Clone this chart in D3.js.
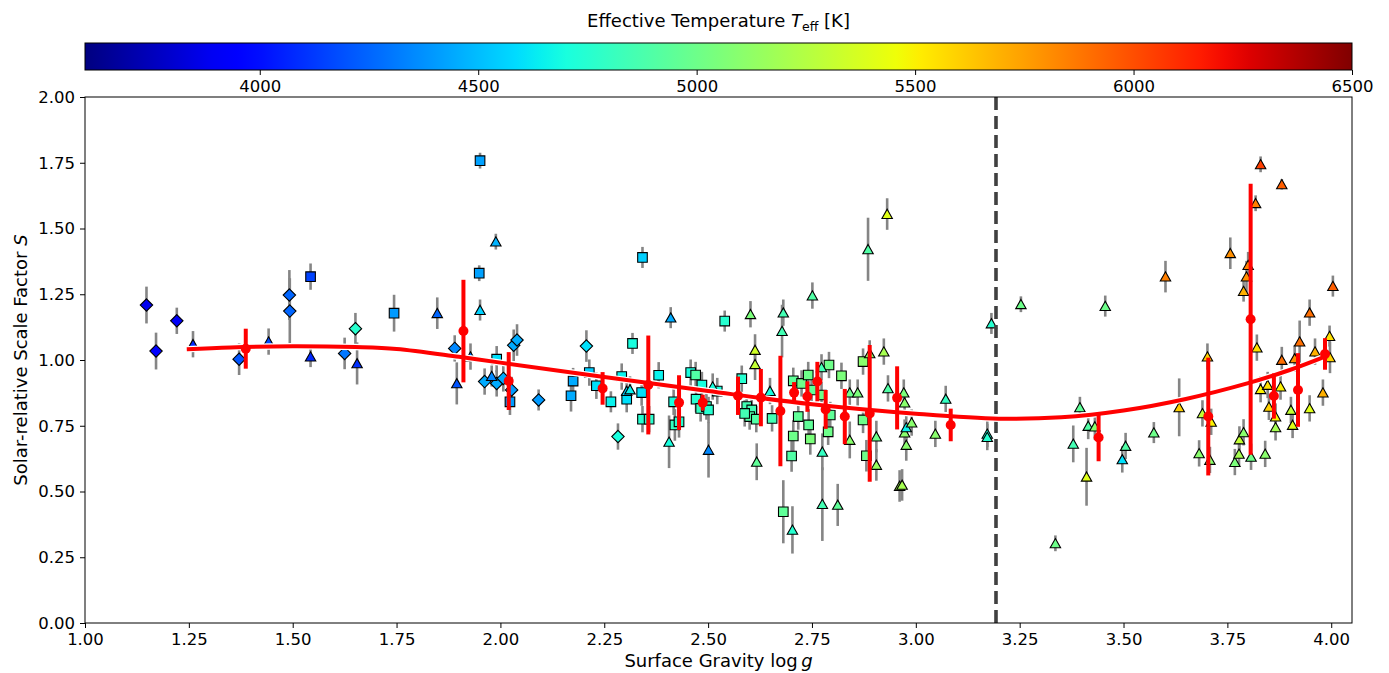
<!DOCTYPE html>
<html><head><meta charset="utf-8">
<script src="https://cdn.jsdelivr.net/npm/d3@7"></script>
<style>body{margin:0;background:#fff} svg{display:block} text{font-family:"DejaVu Sans",sans-serif}</style>
</head><body><svg id="c" width="1389" height="673"></svg>
<script>
// [logg, S, S_err, Teff]
const diamonds = [
[1.148,1.209,0.07,3880],[1.171,1.034,0.07,3930],[1.221,1.149,0.05,3900],[1.371,1.003,0.06,4200],
[1.492,1.247,0.095,4250],[1.493,1.186,0.125,4250],[1.625,1.025,0.06,4300],[1.651,1.119,0.06,4760],
[1.890,1.044,0.05,4350],[1.962,0.918,0.05,4450],[1.991,0.911,0.05,4450],[2.007,0.930,0.05,4450],
[2.027,0.886,0.05,4400],[2.032,1.056,0.06,4450],[2.040,1.076,0.06,4450],[2.092,0.848,0.04,4400],
[2.207,1.053,0.06,4600],[2.283,0.709,0.05,4700]
];
const squares = [
[1.543,1.317,0.05,4150],[1.744,1.178,0.07,4400],[1.951,1.758,0.03,4420],[1.949,1.330,0.03,4420],
[1.991,1.003,0.05,4600],[2.023,0.841,0.05,4400],[2.175,0.920,0.05,4450],[2.170,0.864,0.06,4450],
[2.214,0.952,0.05,4550],[2.231,0.902,0.05,4600],[2.266,0.841,0.04,4650],[2.292,0.937,0.05,4650],
[2.304,0.851,0.05,4600],[2.318,1.063,0.04,4700],[2.340,0.876,0.05,4600],[2.342,1.390,0.04,4550],
[2.342,0.775,0.05,4750],[2.358,0.775,0.05,4750],[2.381,0.942,0.05,4650],[2.417,0.841,0.05,4700],
[2.420,0.753,0.06,4800],[2.430,0.765,0.06,4750],[2.458,0.952,0.05,4700],[2.470,0.943,0.05,4900],
[2.485,0.905,0.05,4700],[2.471,0.851,0.05,4750],[2.482,0.816,0.05,4800],[2.496,0.823,0.05,4800],
[2.501,0.810,0.05,4750],[2.522,0.882,0.05,4700],[2.540,1.148,0.04,4750],[2.581,0.929,0.05,4750],
[2.593,0.823,0.05,4850],[2.605,0.810,0.05,4850],[2.600,0.785,0.05,4900],[2.588,0.797,0.05,4850],
[2.616,0.775,0.05,4900],[2.654,0.778,0.05,4850],[2.681,0.423,0.12,4950],[2.701,0.635,0.06,4900],
[2.705,0.711,0.06,5000],[2.705,0.921,0.05,4950],[2.717,0.785,0.05,4950],[2.725,0.911,0.05,5000],
[2.741,0.943,0.05,5000],[2.742,0.753,0.06,4950],[2.746,0.700,0.06,5050],[2.749,0.886,0.05,4950],
[2.773,0.867,0.05,5000],[2.789,0.727,0.05,5000],[2.794,0.791,0.05,4950],[2.791,0.981,0.05,5000],
[2.821,0.940,0.05,5050],[2.873,0.994,0.05,5100],[2.873,0.772,0.05,5000],[2.881,0.636,0.06,5000]
];
const triangles = [
[1.260,1.060,0.05,4080],[1.442,1.070,0.05,4170],[1.543,1.013,0.04,4080],[1.655,0.987,0.08,4100],
[1.848,1.178,0.06,4250],[1.895,0.911,0.08,4200],[1.928,1.013,0.05,4300],[1.951,1.190,0.04,4560],
[1.979,0.939,0.04,4350],[1.989,1.450,0.03,4470],[2.410,1.161,0.04,4450],[2.304,0.882,0.05,4550],
[2.312,0.888,0.05,4650],[2.406,0.689,0.10,4700],[2.501,0.658,0.105,4350],[2.511,0.899,0.05,4700],
[2.602,1.174,0.05,5050],[2.613,1.038,0.06,5350],[2.613,0.984,0.06,5300],[2.617,0.613,0.07,4950],
[2.649,0.882,0.05,4700],[2.678,1.110,0.10,4850],[2.681,1.180,0.05,4850],[2.703,0.354,0.09,4750],
[2.751,1.245,0.05,4900],[2.773,0.972,0.05,4850],[2.775,0.651,0.07,4800],[2.775,0.452,0.14,4850],
[2.812,0.449,0.08,4950],[2.841,0.876,0.05,5000],[2.841,0.696,0.07,5100],[2.860,0.876,0.05,5050],
[2.885,1.421,0.12,4900],[2.889,1.025,0.05,5100],[2.905,0.709,0.06,5000],[2.905,0.601,0.06,5150],
[2.923,1.032,0.05,5200],[2.931,1.555,0.06,5400],[2.933,0.892,0.05,4900],[2.961,0.521,0.06,5200],
[2.967,0.525,0.06,5200],[2.971,0.876,0.05,5050],[2.973,0.838,0.05,5100],[2.973,0.724,0.05,5100],
[2.977,0.744,0.05,4650],[2.977,0.677,0.06,5100],[2.990,0.762,0.05,5100],[3.047,0.719,0.05,5100],
[3.072,0.852,0.05,4800],[3.172,0.719,0.05,4700],[3.172,0.707,0.05,4750],[3.182,1.139,0.04,4750],
[3.253,1.212,0.03,5000],[3.336,0.303,0.03,5000],[3.379,0.681,0.07,4850],[3.395,0.820,0.04,4950],
[3.411,0.556,0.11,5400],[3.415,0.749,0.05,4900],[3.431,0.747,0.05,5100],[3.456,1.205,0.04,5000],
[3.497,0.622,0.05,4600],[3.505,0.673,0.05,4900],[3.573,0.724,0.04,5000],[3.601,1.317,0.06,5850],
[3.634,0.820,0.11,5600],[3.682,0.645,0.05,5100],[3.690,0.797,0.05,5300],[3.702,1.013,0.05,5600],
[3.708,0.620,0.05,5100],[3.711,0.765,0.05,5500],[3.757,1.406,0.06,5800],[3.768,0.612,0.05,5050],
[3.778,0.643,0.05,5200],[3.779,0.698,0.05,5300],[3.789,0.725,0.05,5100],[3.789,1.262,0.04,5700],
[3.796,1.317,0.06,5800],[3.800,1.361,0.05,5850],[3.807,0.632,0.05,5000],[3.818,1.596,0.03,5850],
[3.821,1.047,0.05,5550],[3.830,1.744,0.03,6050],[3.830,0.889,0.05,5500],[3.841,0.643,0.05,5100],
[3.847,0.905,0.05,5550],[3.850,0.822,0.05,5600],[3.866,0.785,0.05,5500],[3.866,0.744,0.05,5200],
[3.878,0.899,0.05,5500],[3.881,1.668,0.02,5950],[3.881,1.000,0.05,5900],[3.903,0.810,0.05,5300],
[3.907,0.753,0.05,5400],[3.912,1.006,0.05,5800],[3.924,1.070,0.08,5900],[3.948,1.180,0.05,5900],
[3.948,0.816,0.05,5400],[3.961,1.032,0.05,5700],[3.980,0.876,0.05,5700],[3.996,1.091,0.04,5550],
[3.997,1.010,0.06,5600],[4.004,1.281,0.04,5950]
];
// binned means [logg, S, err]
const bins = [
[1.387,1.043,0.076],[1.911,1.110,0.195],[2.020,0.920,0.11],[2.246,0.892,0.062],[2.356,0.905,0.188],
[2.430,0.838,0.104],[2.487,0.838,0.03],[2.572,0.864,0.073],[2.627,0.857,0.109],[2.674,0.806,0.21],
[2.707,0.876,0.04],[2.739,0.861,0.058],[2.763,0.918,0.075],[2.783,0.812,0.074],[2.829,0.785,0.105],
[2.889,0.797,0.26],[2.955,0.856,0.12],[3.084,0.753,0.062],[3.440,0.705,0.09],[3.704,0.785,0.224],
[3.806,1.155,0.515],[3.862,0.863,0.086],[3.920,0.886,0.14],[3.985,1.023,0.06]
];
const curveLogg = [1.245,1.35,1.5,1.65,1.75,1.9,2.0,2.25,2.5,2.75,3.0,3.2,3.35,3.5,3.65,3.8,3.9,3.985];
const curveS    = [1.041,1.048,1.052,1.049,1.042,1.012,0.99,0.935,0.882,0.832,0.796,0.777,0.782,0.808,0.852,0.912,0.962,1.013];
const xTicks = [1.00,1.25,1.50,1.75,2.00,2.25,2.50,2.75,3.00,3.25,3.50,3.75,4.00];
const yTicks = [0.00,0.25,0.50,0.75,1.00,1.25,1.50,1.75,2.00];
const cbTicks = [4000,4500,5000,5500,6000,6500];
const dividerLogg = 3.193;

const svg = d3.select("#c");
const P = {l:85, r:1352, t:97, b:623};
const CB = {l:85, r:1352, t:43, b:70};
const x = d3.scaleLinear().domain([1.0,4.05]).range([P.l,P.r]);
const y = d3.scaleLinear().domain([0,2]).range([P.b,P.t]);
const cx = d3.scaleLinear().domain([3600,6500]).range([CB.l,CB.r]);

const jetR=[[0,0],[0.35,0],[0.66,1],[0.89,1],[1,0.5]];
const jetG=[[0,0],[0.125,0],[0.375,1],[0.64,1],[0.91,0],[1,0]];
const jetB=[[0,0.5],[0.11,1],[0.34,1],[0.65,0],[1,0]];
function seg(s,t){for(let i=1;i<s.length;i++){if(t<=s[i][0]){const a=s[i-1],b=s[i];return a[1]+(b[1]-a[1])*(t-a[0])/(b[0]-a[0]);}}return s[s.length-1][1];}
function jet(t){t=Math.max(0,Math.min(1,t));return d3.rgb(255*seg(jetR,t),255*seg(jetG,t),255*seg(jetB,t)).toString();}
const color = v => jet((v-3600)/2900);

// colorbar
const defs = svg.append("defs");
const grad = defs.append("linearGradient").attr("id","jetg").attr("x1","0%").attr("x2","100%");
d3.range(0,1.0001,0.02).forEach(t=>grad.append("stop").attr("offset",(t*100)+"%").attr("stop-color",jet(t)));
svg.append("rect").attr("x",CB.l).attr("y",CB.t).attr("width",CB.r-CB.l).attr("height",CB.b-CB.t)
  .attr("fill","url(#jetg)").attr("stroke","#000").attr("stroke-width",1);
const cbAxis = svg.append("g").attr("transform",`translate(0,${CB.b})`)
  .call(d3.axisBottom(cx).tickValues(cbTicks).tickSize(5).tickSizeOuter(0).tickFormat(d3.format("d")));
cbAxis.select(".domain").remove();
cbAxis.selectAll("text").attr("font-size",16.5).attr("font-family","DejaVu Sans").attr("dy","0.85em").attr("fill","#000");
const title = svg.append("text").attr("x",(CB.l+CB.r)/2).attr("y",27).attr("text-anchor","middle").attr("font-size",18);
title.append("tspan").text("Effective Temperature ");
title.append("tspan").attr("font-style","italic").text("T");
title.append("tspan").attr("font-size",12.5).attr("dy",4).text("eff");
title.append("tspan").attr("dy",-4).text(" [K]");

// plot frame
const clip = defs.append("clipPath").attr("id","pc");
clip.append("rect").attr("x",P.l).attr("y",P.t).attr("width",P.r-P.l).attr("height",P.b-P.t);
const g = svg.append("g").attr("clip-path","url(#pc)");

const all = [].concat(diamonds.map(d=>[...d,"D"]), squares.map(d=>[...d,"s"]), triangles.map(d=>[...d,"^"]));
// grey error bars
g.append("g").selectAll("line").data(all).join("line")
  .attr("x1",d=>x(d[0])).attr("x2",d=>x(d[0]))
  .attr("y1",d=>y(d[1]-d[2])).attr("y2",d=>y(d[1]+d[2]))
  .attr("stroke","#858585").attr("stroke-width",2.6);
// markers
function shapePath(t){
  if(t==="D") return "M0,-6.2L6.2,0L0,6.2L-6.2,0Z";
  if(t==="s") return "M-4.8,-4.8H4.8V4.8H-4.8Z";
  return "M0,-4.8L5.2,4.4L-5.2,4.4Z";
}
g.append("g").selectAll("path").data(all).join("path")
  .attr("transform",d=>`translate(${x(d[0])},${y(d[1])})`)
  .attr("d",d=>shapePath(d[4])).attr("fill",d=>color(d[3]))
  .attr("stroke","#000").attr("stroke-width",1.1);

// dashed divider
g.append("line").attr("x1",x(dividerLogg)).attr("x2",x(dividerLogg)).attr("y1",P.t).attr("y2",P.b)
  .attr("stroke","#404040").attr("stroke-width",3.6).attr("stroke-dasharray","13,6");

// curve
const curveData = curveLogg.map((v,i)=>[v,curveS[i]]);
const line = d3.line().x(d=>x(d[0])).y(d=>y(d[1])).curve(d3.curveCatmullRom);
g.append("path").attr("d",line(curveData)).attr("fill","none").attr("stroke","#fff").attr("stroke-width",6.5);
g.append("path").attr("d",line(curveData)).attr("fill","none").attr("stroke","#ff0000").attr("stroke-width",4);

// bins
g.append("g").selectAll("line").data(bins).join("line")
  .attr("x1",d=>x(d[0])).attr("x2",d=>x(d[0]))
  .attr("y1",d=>y(d[1]-d[2])).attr("y2",d=>y(d[1]+d[2]))
  .attr("stroke","#ff0000").attr("stroke-width",4);
g.append("g").selectAll("circle").data(bins).join("circle")
  .attr("cx",d=>x(d[0])).attr("cy",d=>y(d[1])).attr("r",5).attr("fill","#ff0000");

// frame
svg.append("rect").attr("x",P.l).attr("y",P.t).attr("width",P.r-P.l).attr("height",P.b-P.t)
  .attr("fill","none").attr("stroke","#000").attr("stroke-width",1);

// axes
const xa = svg.append("g").attr("transform",`translate(0,${P.b})`)
  .call(d3.axisBottom(x).tickValues(xTicks).tickSize(5).tickSizeOuter(0).tickFormat(d3.format(".2f")));
xa.select(".domain").remove();
xa.selectAll("text").attr("font-size",16.5).attr("font-family","DejaVu Sans").attr("fill","#000").attr("dy","0.85em");
const ya = svg.append("g").attr("transform",`translate(${P.l},0)`)
  .call(d3.axisLeft(y).tickValues(yTicks).tickSize(5).tickSizeOuter(0).tickFormat(d3.format(".2f")));
ya.select(".domain").remove();
ya.selectAll("text").attr("font-size",16.5).attr("font-family","DejaVu Sans").attr("fill","#000").attr("dx","-2");

const xl = svg.append("text").attr("x",(P.l+P.r)/2).attr("y",667).attr("text-anchor","middle").attr("font-size",18);
xl.append("tspan").text("Surface Gravity log\u2009");
xl.append("tspan").attr("font-style","italic").text("g");
const yl = svg.append("text").attr("transform",`translate(27,${(P.t+P.b)/2}) rotate(-90)`).attr("text-anchor","middle").attr("font-size",18);
yl.append("tspan").text("Solar-relative Scale Factor ");
yl.append("tspan").attr("font-style","italic").text("S");
</script></body></html>
